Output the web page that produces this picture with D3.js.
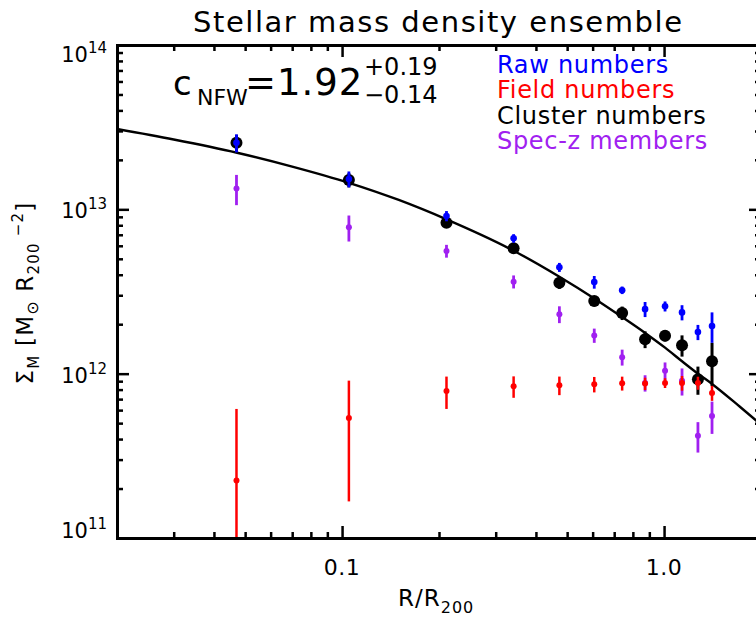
<!DOCTYPE html>
<html>
<head>
<meta charset="utf-8">
<script src="https://cdn.jsdelivr.net/npm/d3@7"></script>
<style>
  html, body { margin: 0; padding: 0; background: #fff; }
  svg { display: block; font-family: "DejaVu Sans", sans-serif; }
</style>
</head>
<body>
<div id="app"></div>
<script>
// radial bins, R/R200
const radius = [0.047, 0.105, 0.211, 0.341, 0.473, 0.607, 0.741, 0.873, 1.007, 1.137, 1.274, 1.409];

// surface mass densities [Msun R200^-2] and 1-sigma errors
const raw = [2.54e13, 1.53e13, 9.11e12, 6.66e12, 4.44e12, 3.61e12, 3.22e12, 2.47e12, 2.57e12, 2.36e12, 1.79e12, 1.95e12];
const rawErr = [0.32e13, 0.17e13, 0.65e12, 0.40e12, 0.28e12, 0.32e12, 0.17e12, 0.26e12, 0.18e12, 0.25e12, 0.19e12, 0.41e12];

const field = [2.24e11, 5.37e11, 7.85e11, 8.38e11, 8.50e11, 8.62e11, 8.74e11, 8.70e11, 8.78e11, 8.78e11, 8.78e11, 7.63e11];
const fieldErr = [3.86e11, 3.70e11, 1.75e11, 1.25e11, 1.10e11, 0.93e11, 0.85e11, 0.75e11, 0.60e11, 0.90e11, 0.80e11, 0.80e11];

const cluster = [2.54e13, 1.51e13, 8.29e12, 5.79e12, 3.58e12, 2.77e12, 2.34e12, 1.62e12, 1.70e12, 1.49e12, 9.24e11, 1.19e12];
const clusterErr = [0.30e13, 0.15e13, 0.50e12, 0.40e12, 0.30e12, 0.20e12, 0.22e12, 0.19e12, 0.13e12, 0.22e12, 0.18e12, 0.35e12];

const specz = [1.34e13, 7.77e12, 5.58e12, 3.63e12, 2.30e12, 1.71e12, 1.26e12, 8.78e11, 1.04e12, 9.06e11, 4.19e11, 5.53e11];
const speczErr = [0.28e13, 1.40e12, 0.50e12, 0.33e12, 0.27e12, 0.17e12, 0.14e12, 0.10e12, 0.13e12, 0.17e12, 0.88e11, 1.23e11];

// best-fit NFW profile
const fitR = [0.02, 0.03, 0.0472, 0.07, 0.105, 0.15, 0.211, 0.341, 0.473, 0.607, 0.741, 0.873, 1.007, 1.137, 1.274, 1.409, 1.72, 2.0];
const fitSigma = [3.08e13, 2.66e13, 2.21e13, 1.82e13, 1.45e13, 1.14e13, 8.69e12, 5.60e12, 3.89e12, 2.87e12, 2.21e12, 1.77e12, 1.44e12, 1.19e12, 1.00e12, 8.66e11, 6.29e11, 4.90e11];

// axis ticks
const xMajor = [0.1, 1];
const xMajorLabels = ["0.1", "1.0"];
const xMinor = [0.02, 0.03, 0.04, 0.05, 0.06, 0.07, 0.08, 0.09, 0.2, 0.3, 0.4, 0.5, 0.6, 0.7, 0.8, 0.9, 2];
const yMajor = [1e11, 1e12, 1e13, 1e14];
const yMajorExp = ["11", "12", "13", "14"];
const yMinor = [1e11, 1e12, 1e13].flatMap((d) => [2, 3, 4, 5, 6, 7, 8, 9].map((k) => k * d));

const legend = [
  { label: "Raw numbers", color: "#0000ff" },
  { label: "Field numbers", color: "#ff0000" },
  { label: "Cluster numbers", color: "#000000" },
  { label: "Spec-z members", color: "#a020f0" },
];

const width = 756, height = 618;
const pLeft = 117, pRight = 761, pTop = 45, pBottom = 538;

const svg = d3.select("#app").append("svg").attr("width", width).attr("height", height);

const x = d3.scaleLog().domain([0.02, 2]).range([pLeft, pRight]);
const y = d3.scaleLog().domain([1e11, 1e14]).range([pBottom, pTop]);

svg.append("defs").append("clipPath").attr("id", "plot")
  .append("rect").attr("x", pLeft).attr("y", pTop).attr("width", pRight - pLeft).attr("height", pBottom - pTop);

const plot = svg.append("g").attr("clip-path", "url(#plot)");

// fit curve
plot.append("path")
  .datum(fitR.map((r, i) => [r, fitSigma[i]]))
  .attr("fill", "none")
  .attr("stroke", "#000")
  .attr("stroke-width", 2.4)
  .attr("d", d3.line().x((d) => x(d[0])).y((d) => y(d[1])).curve(d3.curveMonotoneX));

const drawSeries = (vals, errs, color, r, sw) => {
  const g = plot.append("g");
  g.selectAll("line")
    .data(vals)
    .enter()
    .append("line")
    .attr("x1", (_d, i) => x(radius[i]))
    .attr("x2", (_d, i) => x(radius[i]))
    .attr("y1", (d, i) => (d - errs[i] > 0 ? y(d - errs[i]) : pBottom + 10))
    .attr("y2", (d, i) => y(d + errs[i]))
    .attr("stroke", color)
    .attr("stroke-width", sw);
  g.selectAll("circle")
    .data(vals)
    .enter()
    .append("circle")
    .attr("cx", (_d, i) => x(radius[i]))
    .attr("cy", (d) => y(d))
    .attr("r", r)
    .attr("fill", color);
};

drawSeries(cluster, clusterErr, "#000000", 6, 3);
drawSeries(specz, speczErr, "#a020f0", 3, 2.8);
drawSeries(raw, rawErr, "#0000ff", 3.3, 2.8);
drawSeries(field, fieldErr, "#ff0000", 3, 2.5);

// axes
const styleAxis = (g) => {
  g.select(".domain").attr("stroke-width", 3).attr("stroke-linecap", "square");
  g.selectAll(".tick line").attr("stroke-width", 2.5);
  g.selectAll("text").remove();
};

const axisSets = [
  [d3.axisBottom(x), `translate(0,${pBottom})`, xMinor, xMajor],
  [d3.axisTop(x), `translate(0,${pTop})`, xMinor, xMajor],
  [d3.axisLeft(y), `translate(${pLeft},0)`, yMinor, yMajor],
  [d3.axisRight(y), `translate(${pRight},0)`, yMinor, yMajor],
];
axisSets.forEach(([axis, tr, minor, major]) => {
  svg.append("g").attr("transform", tr)
    .call(axis.tickValues(minor).tickSizeInner(-6).tickSizeOuter(0))
    .call(styleAxis);
  svg.append("g").attr("transform", tr)
    .call(axis.tickValues(major).tickSizeInner(-12).tickSizeOuter(0))
    .call(styleAxis);
});

// x tick labels
svg.append("g")
  .selectAll("text")
  .data(xMajor)
  .enter()
  .append("text")
  .attr("x", (d) => x(d))
  .attr("y", 575)
  .attr("text-anchor", "middle")
  .attr("font-size", 22)
  .attr("letter-spacing", 0.5)
  .text((_d, i) => xMajorLabels[i]);

// y tick labels, kept inside the axis range like IDL does
const yLab = svg.append("g")
  .selectAll("text")
  .data(yMajor)
  .enter()
  .append("text")
  .attr("x", 107)
  .attr("y", (d) => Math.max(62, Math.min(pBottom, y(d) + 9)))
  .attr("text-anchor", "end")
  .attr("font-size", 21);
yLab.append("tspan").text("10");
yLab.append("tspan").attr("dy", -9).attr("font-size", 15).text((_d, i) => yMajorExp[i]);

// title
svg.append("text")
  .attr("x", 193)
  .attr("y", 32)
  .attr("font-size", 29)
  .attr("textLength", 489)
  .attr("lengthAdjust", "spacing")
  .text("Stellar mass density ensemble");

// x label
const xl = svg.append("text").attr("x", 398).attr("y", 606).attr("font-size", 23).attr("letter-spacing", 1);
xl.append("tspan").text("R/R");
xl.append("tspan").attr("dy", 7).attr("font-size", 16).text("200");

// y label
const yl = svg.append("text")
  .attr("transform", "translate(33,293) rotate(-90)")
  .attr("text-anchor", "middle")
  .attr("font-size", 23)
  .attr("letter-spacing", 1.2);
yl.append("tspan").text("Σ");
yl.append("tspan").attr("dy", 6).attr("font-size", 15).text("M");
yl.append("tspan").attr("dy", -6).text(" [M");
yl.append("tspan").attr("dy", 5).attr("font-size", 16).text("⊙");
yl.append("tspan").attr("dy", -5).text(" R");
yl.append("tspan").attr("dy", 6).attr("font-size", 15).text("200");
yl.append("tspan").attr("dy", -16).attr("font-size", 15).text("  −2");
yl.append("tspan").attr("dy", 10).text("]");

// c_NFW annotation
svg.append("text").attr("x", 173).attr("y", 95).attr("font-size", 34).text("c");
svg.append("text").attr("x", 197).attr("y", 105).attr("font-size", 22).text("NFW");
svg.append("text").attr("x", 245).attr("y", 95).attr("font-size", 37).attr("letter-spacing", 1).text("=1.92");
svg.append("text").attr("x", 364).attr("y", 75).attr("font-size", 24).text("+0.19");
svg.append("text").attr("x", 364).attr("y", 103).attr("font-size", 24).text("−0.14");

// legend
svg.append("g")
  .selectAll("text")
  .data(legend)
  .enter()
  .append("text")
  .attr("x", 497)
  .attr("y", (_d, i) => 73 + i * 25.3)
  .attr("font-size", 24)
  .attr("letter-spacing", 0.7)
  .attr("fill", (d) => d.color)
  .text((d) => d.label);
</script>
</body>
</html>
